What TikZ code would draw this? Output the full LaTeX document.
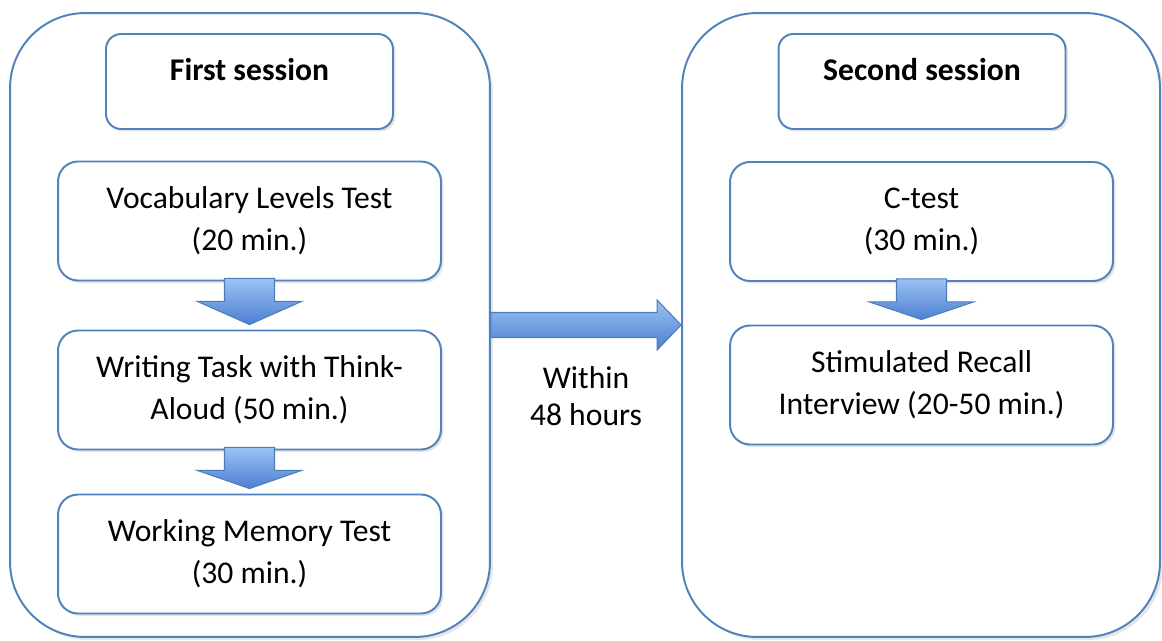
\documentclass[tikz,border=0pt]{standalone}
\usepackage{fontspec}
\setmainfont{Carlito}
\usetikzlibrary{calc,shadows}

\definecolor{boxline}{HTML}{4F81BD}
\definecolor{arrowtop}{HTML}{9CC2F5}
\definecolor{arrowbot}{HTML}{4B7FD0}
\definecolor{arrowline}{HTML}{4A7EBB}

\begin{document}
\begin{tikzpicture}[x=0.02cm, y=-0.02cm,
  font=\fontsize{18}{23.8}\selectfont,
  sessionbox/.style={draw=boxline, line width=1.1pt, rounded corners=1.5cm, fill=white,
    minimum width=9.6cm, minimum height=12.48cm,
    drop shadow={opacity=0.2, shadow xshift=0.06cm, shadow yshift=-0.06cm}},
  titlebox/.style={draw=boxline, line width=1.1pt, rounded corners=0.3cm, fill=white,
    minimum width=5.74cm, minimum height=1.9cm,
    drop shadow={opacity=0.2, shadow xshift=0.05cm, shadow yshift=-0.05cm}},
  titletext/.style={font=\fontsize{18}{22}\selectfont\bfseries},
  taskbox/.style={draw=boxline, line width=1.1pt, rounded corners=0.4cm, fill=white,
    minimum width=7.66cm, minimum height=2.38cm, align=center,
    drop shadow={opacity=0.2, shadow xshift=0.05cm, shadow yshift=-0.05cm}},
  blockarrow/.style={draw=arrowline, line width=0.6pt, top color=arrowtop, bottom color=arrowbot}]

\useasboundingbox (0,0) rectangle (1162,640);

% ========== Session frames ==========
\node[sessionbox] (first) at (250,325) {};
\node[sessionbox, minimum width=9.56cm] (second) at (921,325) {};

% ========== First session ==========
\node[titlebox] (firsttitle) at (249.5,81.5) {};
\node[titletext] (firstlbl) at (249.5,70) {First session};

\node[taskbox] (vlt) at (249.5,221) {Vocabulary Levels Test\\(20 min.)};
\node[taskbox] (wt) at (249.5,390) {Writing Task with Think-\\Aloud (50 min.)};
\node[taskbox] (wm) at (249.5,554) {Working Memory Test\\(30 min.)};

% ========== Second session ==========
\node[titlebox] (secondtitle) at (922,81.5) {};
\node[titletext] (secondlbl) at (922,70) {Second session};

\node[taskbox] (ctest) at (921.5,221.5) {C-test\\(30 min.)};
\node[taskbox] (sri) at (921.5,385) {Stimulated Recall\\Interview (20-50 min.)};

% Block arrows between tasks
\foreach \a/\b in {vlt/wt, wt/wm, ctest/sri} {
  \draw[blockarrow] ($(\a.south)+(-25,-3)$) -- ++(0,23) -- ++(-27,0)
    -- ($(\b.north)+(0,-5)$) -- ($(\a.south)+(52,20)$) -- ++(-27,0)
    -- ($(\a.south)+(25,-3)$) -- cycle;
}

% Arrow from first to second session
\draw[blockarrow] ($(first.east)+(0,-12.5)$) -- ($(second.west)+(-24,-12.5)$)
  -- ++(0,-12.5) -- (second.west) -- ($(second.west)+(-24,25)$)
  -- ++(0,-12.5) -- ($(first.east)+(0,12.5)$) -- cycle;

\node[align=center, font=\fontsize{18}{21}\selectfont] (gap) at (586,396) {Within\\48 hours};

\end{tikzpicture}
\end{document}
